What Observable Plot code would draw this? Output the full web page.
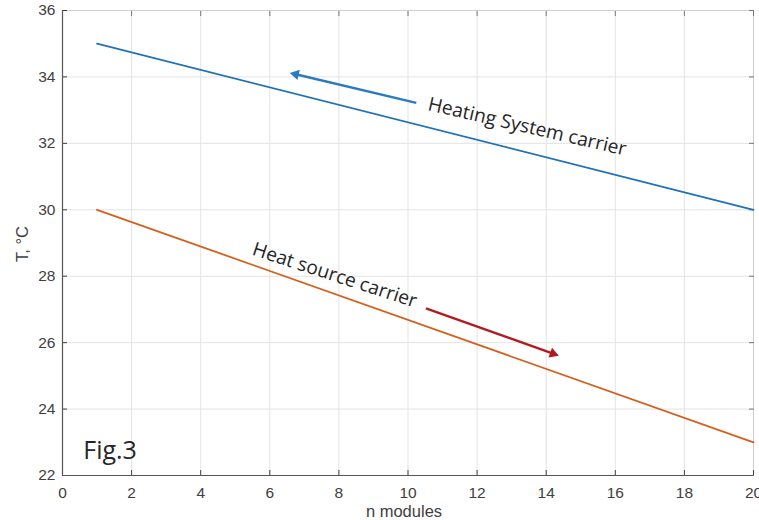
<!DOCTYPE html>
<html>
<head>
<meta charset="utf-8">
<script src="https://cdn.jsdelivr.net/npm/d3@7"></script>
<script src="https://cdn.jsdelivr.net/npm/@observablehq/plot@0.6"></script>
<style>
  html, body { margin: 0; padding: 0; background: #fff; }
</style>
</head>
<body>
<div id="chart"></div>
<script>
// Data
const nModules = [1, 20];
const heatingSystemT = [35, 30];
const heatSourceT = [30, 23];

const xTicks = [0, 2, 4, 6, 8, 10, 12, 14, 16, 18, 20];
const yTicks = [22, 24, 26, 28, 30, 32, 34, 36];

const xLabel = ["n modules"];
const yLabel = ["T, °C"];

// Annotations (data coordinates)
const labelTexts = ["Heating System carrier", "Heat source carrier"];
const labelX = [13.45, 7.88];
const labelY = [32.5, 28.03];
const labelAngle = [13, 18];

const arrowX1 = [10.24, 10.52];
const arrowY1 = [33.22, 27.03];
const arrowX2 = [6.75, 14.2];
const arrowY2 = [34.08, 25.67];
const arrowColors = ["#2a7ac4", "#b3191e"];

const figLabel = ["Fig.3"];
const figX = [0.6];
const figY = [22.5];

const heating = nModules.map((n, i) => ({n, T: heatingSystemT[i]}));
const source = nModules.map((n, i) => ({n, T: heatSourceT[i]}));
const labels = labelTexts.map((t, i) => ({t, x: labelX[i], y: labelY[i], a: labelAngle[i]}));
const arrows = arrowX1.map((x, i) => ({x1: x, y1: arrowY1[i], x2: arrowX2[i], y2: arrowY2[i], c: arrowColors[i], rot: 0}));
const figs = figLabel.map((t, i) => ({t, x: figX[i], y: figY[i]}));

const axisColor = "#404040";

function build() {
  return Plot.plot({
    width: 759,
    height: 520,
    marginLeft: 62,
    marginRight: 6,
    marginTop: 10,
    marginBottom: 45,
    style: {fontFamily: "'Liberation Sans', Arial, sans-serif", fontSize: "15px", background: "#fff", overflow: "visible"},
    x: {domain: [0, 20]},
    y: {domain: [22, 36]},
    marks: [
      Plot.gridX(xTicks, {stroke: "#e3e3e3", strokeOpacity: 1}),
      Plot.gridY(yTicks, {stroke: "#e3e3e3", strokeOpacity: 1}),
      Plot.ruleY([36], {stroke: "#cfcfcf"}),
      Plot.ruleX([20], {stroke: "#cfcfcf"}),
      Plot.axisX({anchor: "top", ticks: xTicks, tickSize: -5, tickFormat: () => "", label: null, color: "#777"}),
      Plot.axisY({anchor: "right", ticks: yTicks, tickSize: -5, tickFormat: () => "", label: null, color: "#777"}),
      Plot.axisX({
        anchor: "bottom", ticks: xTicks, tickSize: -5, tickPadding: 16, color: axisColor,
        label: null, fontSize: 15.5
      }),
      Plot.axisY({
        anchor: "left", ticks: yTicks, tickSize: -5, tickPadding: 12, color: axisColor,
        label: null, fontSize: 15.5
      }),
      Plot.text(xLabel, {frameAnchor: "bottom", lineAnchor: "middle", textAnchor: "middle", dx: -4, dy: 36, text: d => d, fontSize: 16.5, fill: axisColor}),
      Plot.text(yLabel, {frameAnchor: "left", lineAnchor: "middle", textAnchor: "middle", dx: -40, dy: 1, rotate: -90, text: d => d, fontSize: 16.5, fill: axisColor}),
      Plot.ruleY([22], {stroke: "#555", strokeWidth: 1.2}),
      Plot.ruleX([0], {stroke: "#555", strokeWidth: 1.2}),
      Plot.line(heating, {x: "n", y: "T", stroke: "#1f72b8", strokeWidth: 1.8}),
      Plot.line(source, {x: "n", y: "T", stroke: "#d4601e", strokeWidth: 1.8}),
      Plot.link(arrows, {x1: "x1", y1: "y1", x2: "x2", y2: "y2", stroke: "c", strokeWidth: 2.4}),
      Plot.dot(arrows, {x: "x2", y: "y2", fill: "c", symbol: "triangle2", r: 5, rotate: "rot", stroke: null}),
      Plot.text(labels, {
        x: "x", y: "y", text: "t", rotate: "a", fontSize: 19.2,
        fontFamily: "'Open Sans', 'Noto Sans', sans-serif", fill: "#262626"
      }),
      Plot.text(figs, {
        x: "x", y: "y", text: "t", textAnchor: "start", lineAnchor: "bottom", fontSize: 25,
        fontFamily: "'Open Sans', 'Noto Sans', sans-serif", fill: "#262626"
      })
    ]
  });
}

// first pass: get scales to orient the arrowheads along their shafts
const probe = build();
const sx = probe.scale("x"), sy = probe.scale("y");
arrows.forEach(a => {
  const dx = sx.apply(a.x2) - sx.apply(a.x1);
  const dy = sy.apply(a.y2) - sy.apply(a.y1);
  a.rot = Math.atan2(dx, -dy) * 180 / Math.PI;
});
document.getElementById("chart").appendChild(build());
</script>
</body>
</html>
